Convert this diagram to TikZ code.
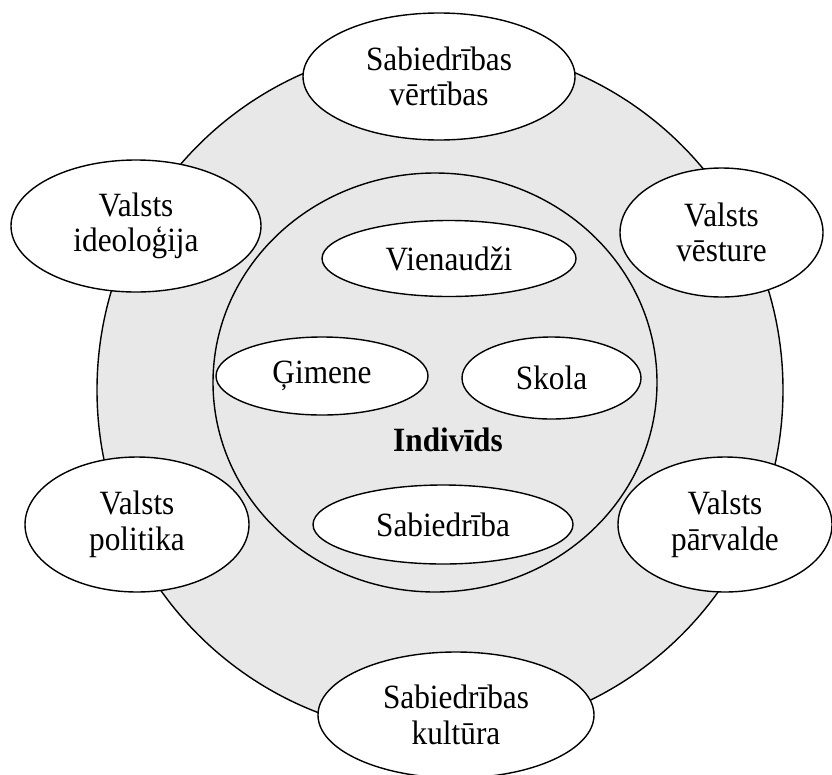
\documentclass[tikz,border=0pt]{standalone}
\usepackage{fontspec}
\setmainfont[FakeStretch=0.92]{Liberation Serif}
\usetikzlibrary{shapes.geometric}
\definecolor{ringgray}{RGB}{232,232,232}
\begin{document}
\begin{tikzpicture}[x=1pt,y=-1pt,
  txt/.style={font=\fontsize{34}{35.5}\selectfont},
  blob/.style={ellipse, draw=black, line width=1.4pt, fill=white, inner sep=0pt, align=center, txt},
  ring/.style={ellipse, draw=black, line width=1.4pt, fill=ringgray, inner sep=0pt}]
\useasboundingbox (0,0) rectangle (832,774);
% rings
\node[ring, minimum width=686pt, minimum height=690pt] (outer) at (440,390) {};
\node[ring, minimum width=444pt, minimum height=419pt] (inner) at (435,382.5) {};
\node[txt, font=\bfseries\fontsize{34}{35.5}\selectfont] (ind) at (448,440) {Indivīds};
% outer ellipses
\node[blob, minimum width=272pt, minimum height=127pt] (vert) at (439,76.5) {Sabiedrības\\vērtības};
\node[blob, minimum width=250pt, minimum height=132pt] (ideo) at (136,226) {Valsts\\ideoloģija};
\node[blob, minimum width=203pt, minimum height=129pt] (vest) at (721.5,232.5) {Valsts\\vēsture};
\node[blob, minimum width=224pt, minimum height=135pt] (poli) at (137,524.5) {Valsts\\politika};
\node[blob, minimum width=214pt, minimum height=135pt] (parv) at (725,524.5) {Valsts\\pārvalde};
\node[blob, minimum width=276pt, minimum height=126pt] (kult) at (456,715) {Sabiedrības\\kultūra};
% inner ellipses
\node[blob, minimum width=254pt, minimum height=76pt] (vien) at (449,258.5) {Vienaudži};
\node[blob, minimum width=212pt, minimum height=78pt] (gim) at (322,376) {Ģimene};
\node[blob, minimum width=179pt, minimum height=82pt] (skola) at (551.5,378) {Skola};
\node[blob, minimum width=260pt, minimum height=79pt] (sab) at (443,524.5) {Sabiedrība};
\end{tikzpicture}
\end{document}
